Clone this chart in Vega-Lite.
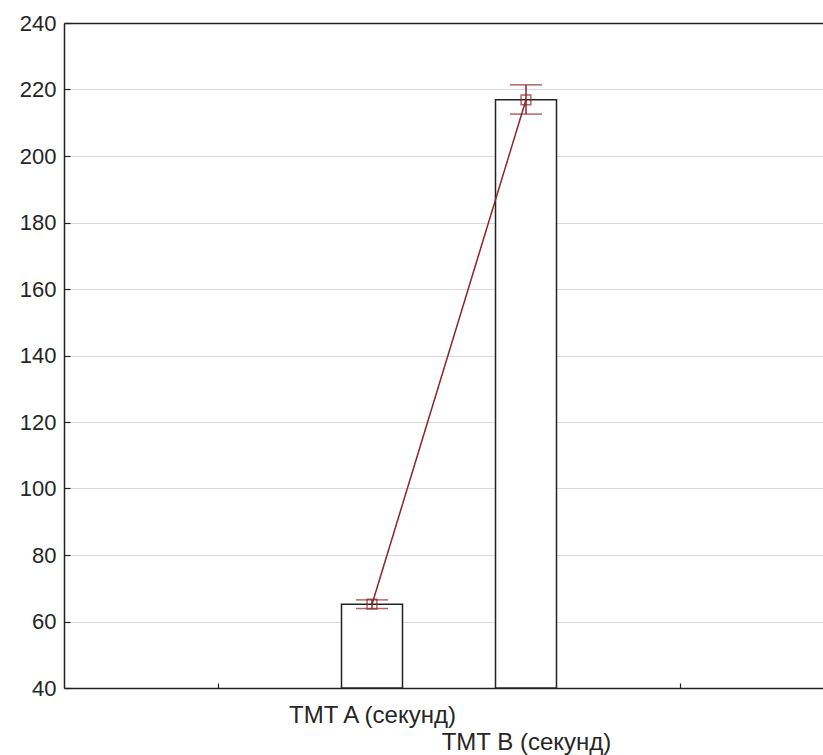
{
  "$schema": "https://vega.github.io/schema/vega-lite/v6.json",
  "width": 759,
  "height": 665,
  "autosize": {"type": "none"},
  "padding": {"left": 64, "top": 23, "right": 0, "bottom": 67},
  "background": "white",
  "config": {
    "view": {"stroke": null},
    "font": "Liberation Sans",
    "axis": {
      "labelFont": "Liberation Sans",
      "labelFontSize": 22,
      "labelColor": "#262626",
      "domainColor": "#222222",
      "domainWidth": 1.5,
      "tickColor": "#222222",
      "tickWidth": 1.2,
      "title": null
    }
  },
  "data": {
    "values": [
      {"var": "TMT A (секунд)", "mean": 65.2, "lo": 63.9, "hi": 66.5},
      {"var": "TMT B (секунд)", "mean": 216.9, "lo": 212.6, "hi": 221.4}
    ]
  },
  "encoding": {
    "x": {
      "field": "var",
      "type": "nominal",
      "sort": null,
      "scale": {
        "type": "point",
        "domain": ["_0", "_1", "TMT A (секунд)", "TMT B (секунд)", "_4", "_5"],
        "range": [0, 770],
        "padding": 0
      },
      "axis": {
        "values": ["_1", "TMT A (секунд)", "TMT B (секунд)", "_4"],
        "labelExpr": "datum.value == 'TMT A (секунд)' ? datum.value : (datum.value == 'TMT B (секунд)' ? [' ', datum.value] : '')",
        "labelAngle": 0,
        "labelAlign": "center",
        "labelBaseline": "top",
        "labelFontSize": 24,
        "labelLineHeight": 27,
        "labelPadding": 20,
        "tickSize": -5,
        "grid": false,
        "labelOverlap": false
      }
    }
  },
  "layer": [
    {
      "mark": {"type": "bar", "width": 61, "fill": "white", "stroke": "#222222", "strokeWidth": 1.5, "clip": true},
      "encoding": {
        "y": {
          "field": "mean",
          "type": "quantitative",
          "scale": {"domain": [40, 240], "nice": false, "zero": false},
          "axis": {
            "values": [40, 60, 80, 100, 120, 140, 160, 180, 200, 220, 240],
            "tickSize": -6,
            "labelPadding": 14,
            "labelBaseline": "middle",
            "grid": true,
            "gridColor": {"condition": {"test": "datum.value == 240", "value": "#222222"}, "value": "#d9d9d9"},
            "gridWidth": {"condition": {"test": "datum.value == 240", "value": 1.5}, "value": 1}
          }
        },
        "y2": {"datum": 40}
      }
    },
    {
      "mark": {"type": "line", "color": "#8b2525", "strokeWidth": 1.5},
      "encoding": {"y": {"field": "mean", "type": "quantitative"}}
    },
    {
      "mark": {"type": "rule", "color": "#8b2525", "strokeWidth": 1.5},
      "encoding": {"y": {"field": "lo", "type": "quantitative"}, "y2": {"field": "hi"}}
    },
    {
      "mark": {"type": "tick", "orient": "horizontal", "color": "#8b2525", "size": 32, "thickness": 1.5},
      "encoding": {"y": {"field": "lo", "type": "quantitative"}}
    },
    {
      "mark": {"type": "tick", "orient": "horizontal", "color": "#8b2525", "size": 32, "thickness": 1.5},
      "encoding": {"y": {"field": "hi", "type": "quantitative"}}
    },
    {
      "mark": {"type": "square", "filled": false, "size": 95, "color": "#8b2525", "strokeWidth": 1.5},
      "encoding": {"y": {"field": "mean", "type": "quantitative"}}
    }
  ]
}
